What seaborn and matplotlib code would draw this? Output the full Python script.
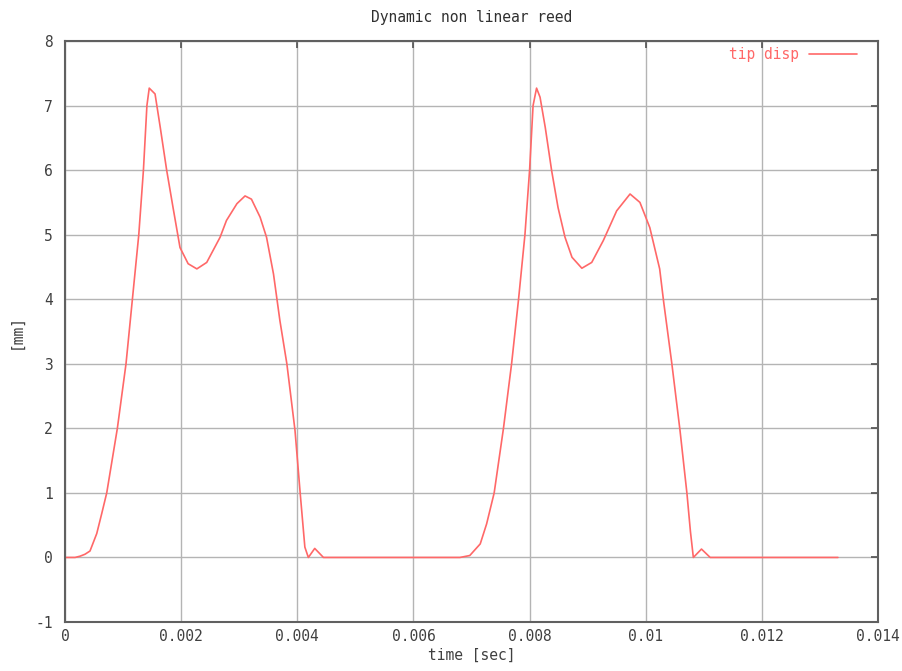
import matplotlib
matplotlib.use("Agg")
import matplotlib.pyplot as plt
import seaborn as sns
import pandas as pd

# Data (time in seconds, tip displacement in mm)
time_sec = [
    0.0, 0.000172, 0.00026, 0.000344, 0.00043, 0.000546, 0.000632, 0.000718, 0.000901,
    0.00105, 0.00116, 0.00127, 0.00135, 0.00141, 0.00145, 0.00155, 0.00164, 0.00175,
    0.00186, 0.00198, 0.00212, 0.00227, 0.00244, 0.00267, 0.00278, 0.00296, 0.00310,
    0.00321, 0.00336, 0.00347, 0.00359, 0.00370, 0.00382, 0.00396, 0.00405, 0.00413,
    0.00419, 0.00430, 0.00445, 0.00680, 0.00697, 0.00715, 0.00726, 0.00739, 0.00755,
    0.00769, 0.00781, 0.00792, 0.00800, 0.00806, 0.00812, 0.00818, 0.00827, 0.00838,
    0.00849, 0.00861, 0.00873, 0.00890, 0.00907, 0.00927, 0.00950, 0.00973, 0.00990,
    0.01007, 0.01024, 0.01031, 0.01045, 0.01059, 0.01071, 0.01077, 0.01082, 0.01096,
    0.01111, 0.01331,
]
tip_disp = [
    0.0, 0.0, 0.02, 0.05, 0.1, 0.37, 0.68, 1.0, 2.0,
    3.0, 4.0, 5.0, 6.0, 7.0, 7.27, 7.18, 6.66, 6.0,
    5.42, 4.80, 4.55, 4.47, 4.57, 4.96, 5.22, 5.48, 5.60,
    5.55, 5.27, 4.96, 4.39, 3.67, 3.0, 1.97, 0.99, 0.16,
    0.0, 0.14, 0.0, 0.0, 0.03, 0.21, 0.52, 1.0, 2.0,
    3.0, 4.0, 5.0, 6.0, 7.0, 7.27, 7.13, 6.66, 5.99,
    5.42, 4.96, 4.65, 4.48, 4.57, 4.91, 5.37, 5.63, 5.50,
    5.11, 4.47, 3.95, 3.0, 1.97, 0.99, 0.4, 0.0, 0.13,
    0.0, 0.0,
]
x_ticks = [0, 0.002, 0.004, 0.006, 0.008, 0.010, 0.012, 0.014]
x_tick_labels = ["0", "0.002", "0.004", "0.006", "0.008", "0.01", "0.012", "0.014"]
y_ticks = [-1, 0, 1, 2, 3, 4, 5, 6, 7, 8]
y_tick_labels = ["-1", "0", "1", "2", "3", "4", "5", "6", "7", "8"]

df = pd.DataFrame({"time": time_sec, "disp": tip_disp})

sns.set_style("white")
plt.rcParams["font.family"] = ["DejaVu Sans Mono", "DejaVu Sans"]

FS = 10.5
TXT = "#404040"

fig = plt.figure(figsize=(9.02, 6.71), dpi=100)
ax = fig.add_axes([0.0721, 0.0730, 0.9013, 0.8659])

sns.lineplot(data=df, x="time", y="disp", ax=ax, color="#ff6868",
             linewidth=1.2, label="tip disp", estimator=None, sort=False)

ax.set_xlim(0, 0.014)
ax.set_ylim(-1, 8)
ax.set_xticks(x_ticks)
ax.set_xticklabels(x_tick_labels)
ax.set_yticks(y_ticks)
ax.set_yticklabels(y_tick_labels)

ax.grid(True, color="#b4b4b4", linewidth=1.0)
ax.set_axisbelow(True)
for s in ax.spines.values():
    s.set_color("#606060")
    s.set_linewidth(1.5)
    s.set_visible(True)

ax.tick_params(axis="both", direction="in", length=5, width=1.2, color="#505050",
               labelsize=FS, labelcolor=TXT, top=True, right=True)
ax.tick_params(axis="x", pad=5)
ax.tick_params(axis="y", pad=9)

ax.set_xlabel("time [sec]", fontsize=FS, color=TXT, labelpad=3)
ax.set_ylabel("[mm]", fontsize=FS, color=TXT, labelpad=8)
ax.set_title("Dynamic non linear reed", fontsize=FS, color="#303030", pad=14)

leg = ax.legend(loc="upper right", bbox_to_anchor=(0.974, 0.99), frameon=False,
                markerfirst=False, labelcolor="linecolor", fontsize=FS,
                handlelength=3.3, handletextpad=0.65, borderpad=0,
                borderaxespad=0)

fig.savefig("out.png", dpi=100, facecolor="white")
